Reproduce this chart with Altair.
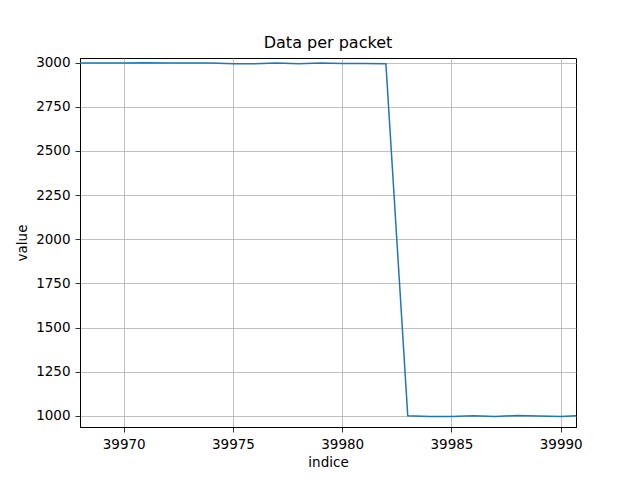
import altair as alt
import pandas as pd

indice = list(range(39968, 39992))
value = [2997, 2997, 2997, 2999, 2998, 2997, 2997, 2993, 2994, 2998, 2993, 2998,
         2995, 2995, 2994, 1000, 996, 997, 1000, 996, 1002, 999, 997, 1002]
x_ticks = [39970, 39975, 39980, 39985, 39990]
y_ticks = [1000, 1250, 1500, 1750, 2000, 2250, 2500, 2750, 3000]

df = pd.DataFrame({"indice": indice, "value": value})

W, H = 496, 369
FONT = "DejaVu Sans"

axis_style = dict(
    grid=True, gridColor="#b0b0b0", gridWidth=0.8, gridOpacity=1,
    domain=True, domainColor="black", domainWidth=1,
    ticks=True, tickColor="black", tickSize=5, tickWidth=0.8,
    labelFont=FONT, labelFontSize=13.5, labelColor="black", labelPadding=5,
    titleFont=FONT, titleFontSize=13.5, titleFontWeight="normal", titleColor="black",
)

chart = alt.Chart(df).mark_line(color="#1f77b4", strokeWidth=1.5, clip=True).encode(
    x=alt.X("indice:Q", scale=alt.Scale(domain=[39968, 39990.7], nice=False, zero=False),
            axis=alt.Axis(values=x_ticks, format="d", title="indice",
                          titleX=W / 2, titleY=35, titleBaseline="middle", titleAlign="center",
                          **axis_style)),
    y=alt.Y("value:Q", scale=alt.Scale(domain=[937, 3026], nice=False, zero=False),
            axis=alt.Axis(values=y_ticks, format="d", title="value",
                          titleX=-58, titleY=H / 2, titleAngle=-90,
                          titleBaseline="middle", titleAlign="center", **axis_style)),
).properties(
    width=W, height=H,
    title=alt.TitleParams("Data per packet", font=FONT, fontSize=16, fontWeight="normal",
                          color="black", offset=5, anchor="middle"),
    autosize=alt.AutoSizeParams(type="none"),
    padding={"left": 72, "top": 50, "right": 56, "bottom": 45},
    background="white",
).configure_view(
    stroke="black", strokeWidth=1
)

chart.save("out.html", embed_options={"renderer": "svg", "actions": False})
